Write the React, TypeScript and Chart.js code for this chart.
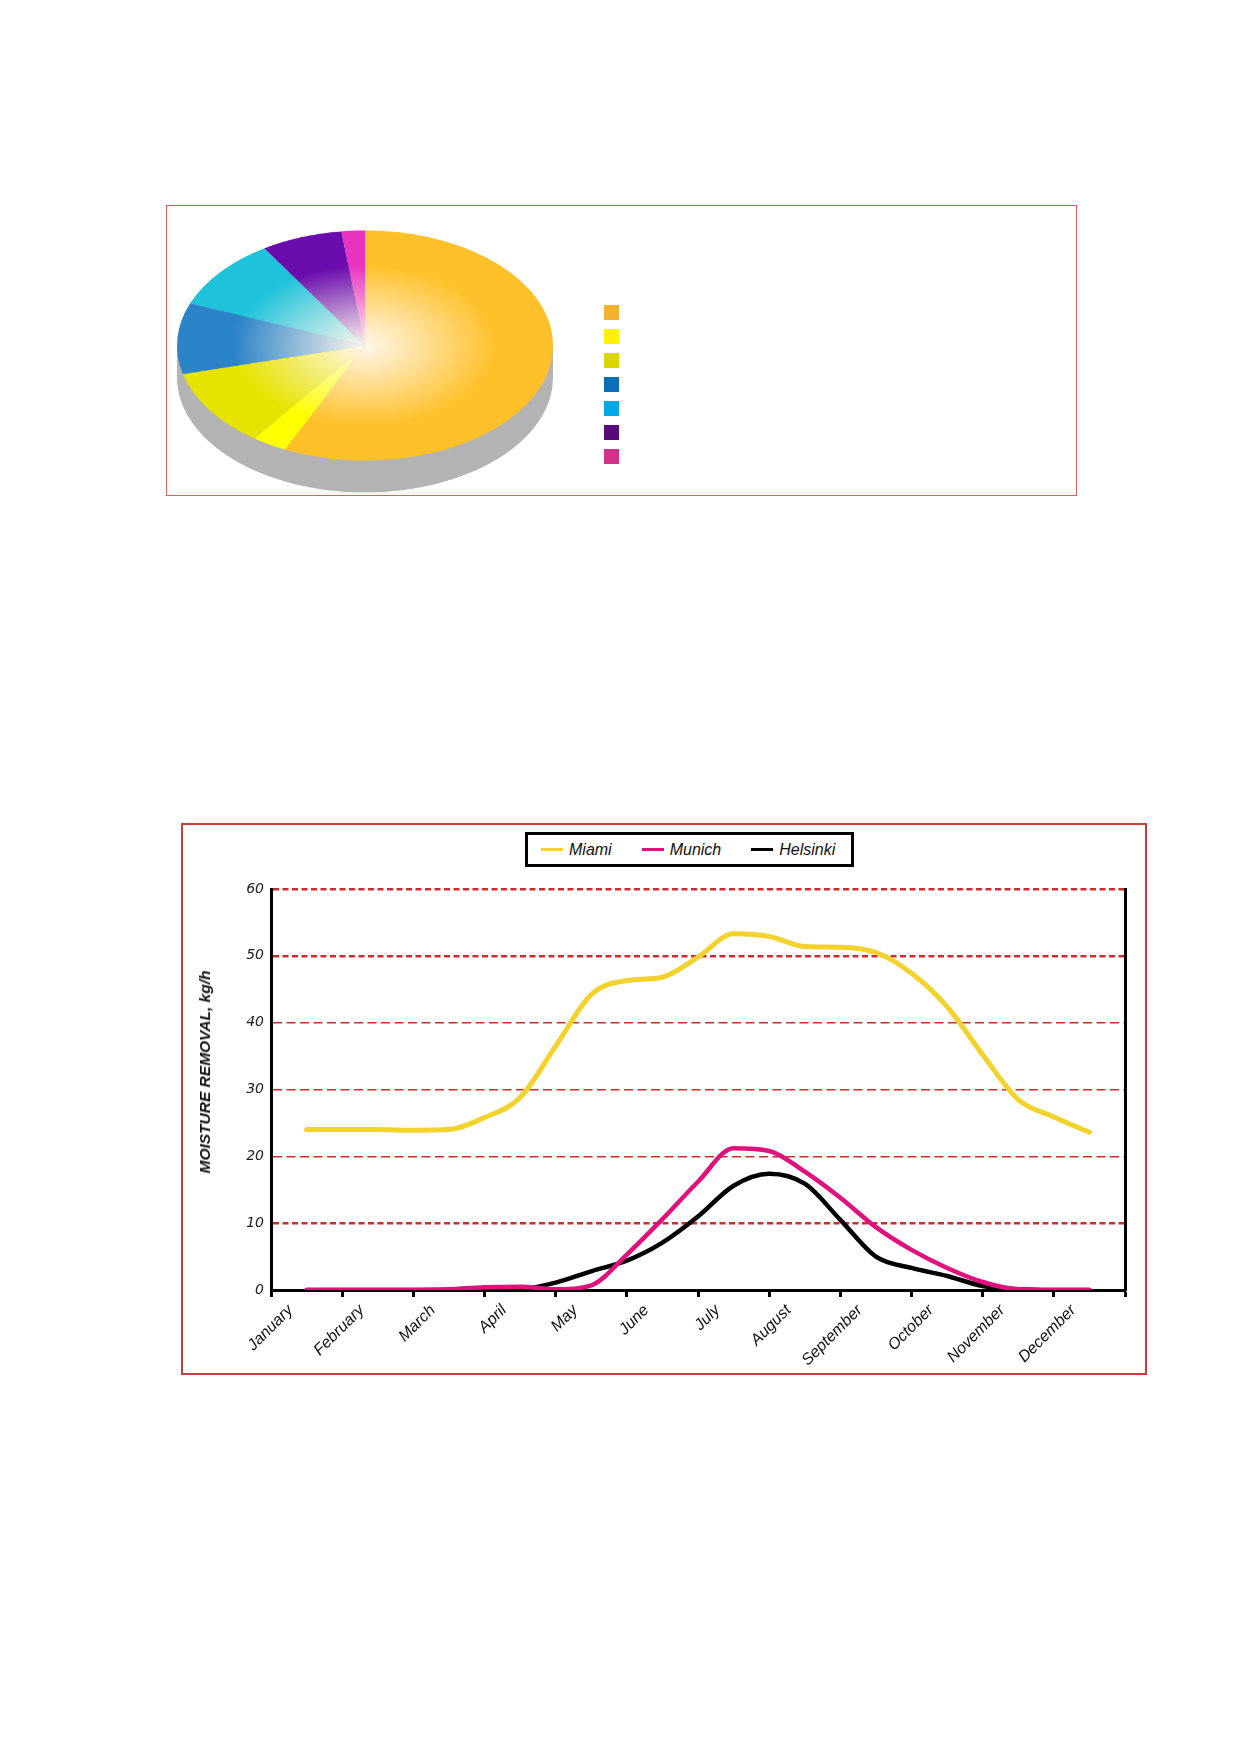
import { useEffect, useRef } from "react";
import { Chart, registerables } from "chart.js";

Chart.register(...registerables);

Chart.defaults.font.family = "'Liberation Sans', Arial, sans-serif";
Chart.defaults.color = "#111";

// ---- pie data (the key in the source has no readable text) ----
const pieLabels = ["Segment 1", "Segment 2", "Segment 3", "Segment 4", "Segment 5", "Segment 6", "Segment 7"];
const pieShares = [57, 3, 11, 10, 10, 7, 2];
const pieColors = ["#FFC12A", "#FFFF00", "#E6E300", "#2C84C8", "#1EC3DB", "#6A0CAE", "#E833C0"];
const pieKeyColors = ["#F4B232", "#FFF200", "#D9D600", "#0A6FB6", "#00A8E6", "#5A0A78", "#D23189"];

// ---- line data ----
const monthLabels = [
  "January", "February", "March", "April", "May", "June",
  "July", "August", "September", "October", "November", "December",
];
// reading positions, in months counted from the middle of January
const samplePoints = [0, 0.5, 1, 1.5, 2, 2.5, 3, 3.5, 4, 4.5, 5, 5.5, 6, 6.5, 7, 7.5, 8, 8.5, 9, 9.5, 10, 10.5, 11];
const miami = [24.0, 24.0, 24.0, 23.9, 24.0, 25.8, 28.8, 36.5, 44.2, 46.3, 46.8, 49.8, 53.3, 52.9, 51.4, 51.3, 50.5, 47.4, 42.4, 35.2, 28.5, 25.9, 23.6];
const munich = [0, 0, 0, 0, 0.1, 0.4, 0.5, 0.1, 0.7, 5.3, 10.6, 16.2, 21.2, 20.8, 17.7, 13.8, 9.4, 6.0, 3.3, 1.2, 0.1, 0, 0];
const helsinki = [0, 0, 0, 0, 0, 0, 0.1, 1.1, 2.8, 4.4, 7.1, 11.0, 15.6, 17.4, 15.9, 10.5, 5.0, 3.3, 2.1, 0.6, 0.1, 0, 0];
const yTicks = [0, 10, 20, 30, 40, 50, 60];
const yTitle = "MOISTURE REMOVAL, kg/h";

const seriesNames = ["Miami", "Munich", "Helsinki"];
const seriesColors = ["#F3D22C", "#E0107C", "#000000"];
const seriesWidths = [5, 4.5, 4.5];
const heavyGrid = [10, 50, 60];

const PIE_DEPTH = 52;
const PIE_SQUASH = 0.612;

function radialShade(ctx: any, color: string) {
  const chart = ctx.chart;
  const area = chart.chartArea;
  if (!area) return color;
  const cx = (area.left + area.right) / 2;
  const cy = (area.top + area.bottom) / 2;
  const r = Math.min(area.width, area.height) / 2;
  const g = chart.ctx.createRadialGradient(cx, cy, 0, cx, cy, r);
  g.addColorStop(0, "#FFF7EC");
  g.addColorStop(0.7, color);
  g.addColorStop(1, color);
  return g;
}

function PieChart() {
  const chartRef = useRef<HTMLCanvasElement>(null);

  useEffect(() => {
    if (!chartRef.current) return;

    // grey rim under the top face
    const sidePlugin = {
      id: "pieSide",
      beforeDatasetsDraw(chart: any) {
        const arc = chart.getDatasetMeta(0).data[0];
        if (!arc) return;
        const { x, y, outerRadius } = arc;
        const c = chart.ctx;
        c.save();
        c.fillStyle = "#B3B3B3";
        c.beginPath();
        c.arc(x, y + PIE_DEPTH, outerRadius, 0, Math.PI * 2);
        c.fill();
        c.fillRect(x - outerRadius, y, outerRadius * 2, PIE_DEPTH);
        c.restore();
      },
    };

    const chart = new Chart(chartRef.current, {
      type: "pie",
      data: {
        labels: pieLabels,
        datasets: [{
          data: pieShares,
          backgroundColor: (ctx: any) => radialShade(ctx, pieColors[ctx.dataIndex]),
          borderWidth: 0,
          hoverOffset: 0,
        }],
      },
      options: {
        responsive: false,
        animation: false,
        events: [],
        layout: { padding: { left: 4, right: 4, top: 4, bottom: 56 } },
        plugins: {
          legend: { display: false },
          tooltip: { enabled: false },
        },
      },
      plugins: [sidePlugin],
    });

    return () => chart.destroy();
  }, []);

  return (
    <div style={{ position: "absolute", left: 173, top: 227.5, transform: `scaleY(${PIE_SQUASH})`, transformOrigin: "top left" }}>
      <canvas ref={chartRef} width={384} height={436} />
    </div>
  );
}

function LineChart() {
  const chartRef = useRef<HTMLCanvasElement>(null);

  useEffect(() => {
    if (!chartRef.current) return;

    const series = [miami, munich, helsinki];

    const chart = new Chart(chartRef.current, {
      type: "line",
      data: {
        datasets: series.map((values, i) => ({
          label: seriesNames[i],
          data: samplePoints.map((m, j) => ({ x: m, y: values[j] })),
          borderColor: seriesColors[i],
          backgroundColor: seriesColors[i],
          borderWidth: seriesWidths[i],
          pointRadius: 0,
          fill: false,
          cubicInterpolationMode: "monotone" as const,
          xAxisID: "x",
          yAxisID: "y",
        })),
      },
      options: {
        responsive: false,
        animation: false,
        events: [],
        layout: { padding: { left: 0, right: 20, top: 64, bottom: 0 } },
        elements: { line: { borderJoinStyle: "round", borderCapStyle: "round" } },
        plugins: {
          legend: { display: false },
          tooltip: { enabled: false },
        },
        scales: {
          x: {
            type: "linear",
            display: false,
            min: -0.5,
            max: monthLabels.length - 0.5,
          },
          months: {
            type: "category",
            position: "bottom",
            labels: monthLabels,
            offset: true,
            grid: {
              offset: true,
              drawOnChartArea: false,
              tickLength: 7,
              tickWidth: 3,
              tickColor: "#000",
            },
            border: { color: "#000", width: 3 },
            ticks: {
              autoSkip: false,
              minRotation: 45,
              maxRotation: 45,
              padding: 4,
              labelOffset: -16,
              color: "#111",
              font: { size: 16, style: "italic" },
            },
            afterFit: (scale: any) => { scale.height = 83; },
          },
          y: {
            min: yTicks[0],
            max: yTicks[yTicks.length - 1],
            ticks: {
              stepSize: yTicks[1] - yTicks[0],
              padding: 7,
              color: "#222",
              font: { family: "'DejaVu Sans', sans-serif", size: 14, style: "italic" },
            },
            grid: {
              drawTicks: false,
              color: (c: any) => (c.tick && c.tick.value === 0 ? "rgba(0,0,0,0)" : "#CC2D2D"),
              lineWidth: (c: any) => (c.tick && heavyGrid.includes(c.tick.value) ? 2.4 : 1.4),
            },
            border: {
              color: "#000",
              width: 3,
              dash: (c: any) => (c.tick && heavyGrid.includes(c.tick.value) ? [6, 3.5] : [9, 4.5]),
            },
            afterFit: (scale: any) => { scale.width = 88; },
          },
          yRight: {
            position: "right",
            min: yTicks[0],
            max: yTicks[yTicks.length - 1],
            ticks: { display: false },
            grid: { display: false, drawTicks: false },
            border: { color: "#000", width: 3 },
            afterFit: (scale: any) => { scale.width = 0; },
          },
        },
      } as any,
    });

    return () => chart.destroy();
  }, []);

  return (
    <div style={{ position: "absolute", left: 183, top: 825 }}>
      <canvas ref={chartRef} width={962} height={548} />
    </div>
  );
}

export default function App() {
  return (
    <div style={{ position: "absolute", left: 0, top: 0, width: 1239, height: 1754, background: "#fff", fontFamily: "'Liberation Sans', Arial, sans-serif" }}>
      {/* pie panel */}
      <div style={{ position: "absolute", left: 166, top: 205, width: 911, height: 291, border: "1.5px solid #E35B5B", boxSizing: "border-box" }} />
      <PieChart />
      <div style={{ position: "absolute", left: 604, top: 305 }}>
        {pieLabels.map((label, i) => (
          <div key={label} title={label} style={{ width: 15, height: 15, marginBottom: 9, background: pieKeyColors[i] }} />
        ))}
      </div>

      {/* line panel */}
      <div style={{ position: "absolute", left: 181, top: 823, width: 966, height: 552, border: "2px solid #CC3A3A", boxSizing: "border-box" }} />
      <LineChart />
      <div style={{ position: "absolute", left: 205, top: 1072, transform: "translate(-50%, -50%) rotate(-90deg)", whiteSpace: "nowrap", fontSize: 15.5, fontWeight: "bold", fontStyle: "italic", color: "#111" }}>
        {yTitle}
      </div>
      <div style={{ position: "absolute", left: 525, top: 832, width: 329, height: 35, border: "3px solid #000", boxSizing: "border-box", display: "flex", alignItems: "center", paddingLeft: 13, background: "#fff" }}>
        {seriesNames.map((name, i) => (
          <div key={name} style={{ display: "flex", alignItems: "center", marginRight: 30 }}>
            <span style={{ display: "inline-block", width: 22, height: 3, background: seriesColors[i], marginRight: 6 }} />
            <span style={{ fontStyle: "italic", fontSize: 16, color: "#111" }}>{name}</span>
          </div>
        ))}
      </div>
    </div>
  );
}
